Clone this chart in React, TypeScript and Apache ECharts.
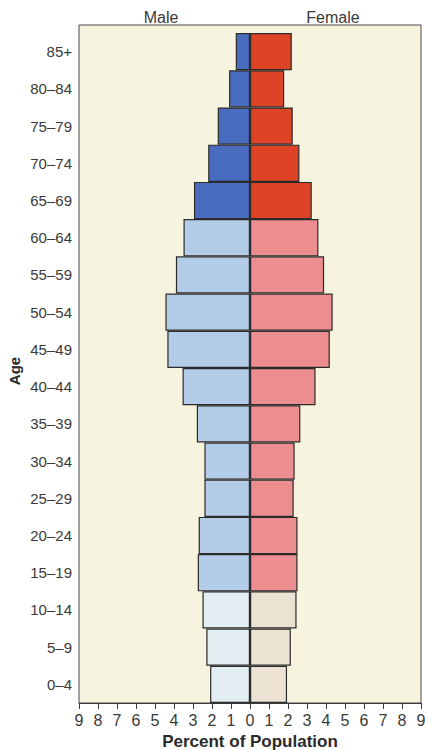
import React, { useEffect, useRef } from "react";
import * as echarts from "echarts";

const ageGroups = [
  "0–4", "5–9", "10–14", "15–19", "20–24", "25–29", "30–34", "35–39", "40–44",
  "45–49", "50–54", "55–59", "60–64", "65–69", "70–74", "75–79", "80–84", "85+",
];
const maleValues = [2.1, 2.3, 2.5, 2.75, 2.7, 2.4, 2.4, 2.8, 3.55, 4.35, 4.45, 3.9, 3.5, 2.95, 2.2, 1.7, 1.1, 0.75];
const femaleValues = [1.95, 2.15, 2.45, 2.5, 2.5, 2.3, 2.35, 2.65, 3.45, 4.2, 4.35, 3.9, 3.6, 3.25, 2.6, 2.25, 1.8, 2.2];
const xTicks = { min: -9, max: 9, step: 1 };

const maleColors = { young: "#e3eef3", mid: "#b3cde8", old: "#4a6cbf" };
const femaleColors = { young: "#ece2d3", mid: "#ec8d8f", old: "#dd4426" };

function groupOf(i: number) {
  if (i <= 2) return "young";
  if (i <= 12) return "mid";
  return "old";
}

export default function App() {
  const ref = useRef<HTMLDivElement>(null);
  useEffect(() => {
    document.body.style.margin = "0";
    const chart = echarts.init(ref.current!, undefined, { renderer: "svg" });
    const font = "'Liberation Sans', Arial, sans-serif";
    const textColor = "#3a3a3a";
    const border = { borderColor: "#2b2b2b", borderWidth: 1.2 };
    chart.setOption({
      animation: false,
      backgroundColor: "#ffffff",
      textStyle: { fontFamily: font },
      grid: { left: 79, right: 5, top: 33, bottom: 47, containLabel: false, outerBoundsMode: "none" },
      graphic: [
        {
          type: "rect",
          z: -10,
          silent: true,
          shape: { x: 79, y: 25, width: 342, height: 678 },
          style: { fill: "#f6f4de", stroke: "#4a4a4a", lineWidth: 1 },
        },
        {
          type: "text",
          x: 161,
          y: 17,
          style: { text: "Male", fontSize: 16, fill: textColor, fontFamily: font, textAlign: "center", textVerticalAlign: "middle" },
        },
        {
          type: "text",
          x: 333,
          y: 17,
          style: { text: "Female", fontSize: 16, fill: textColor, fontFamily: font, textAlign: "center", textVerticalAlign: "middle" },
        },
        {
          type: "text",
          x: 14,
          y: 371,
          rotation: Math.PI / 2,
          style: { text: "Age", fontSize: 15, fontWeight: "bold", fill: "#2a2a2a", fontFamily: font, textAlign: "center", textVerticalAlign: "middle" },
        },
      ],
      xAxis: {
        type: "value",
        min: xTicks.min,
        max: xTicks.max,
        interval: xTicks.step,
        name: "Percent of Population",
        nameLocation: "middle",
        nameGap: 25,
        nameTextStyle: { fontSize: 17, fontWeight: "bold", color: "#2a2a2a", fontFamily: font, lineHeight: 18 },
        axisLine: { show: true, onZero: false, lineStyle: { color: "#3a3a3a", width: 1 } },
        axisTick: { show: true, inside: false, length: 6, lineStyle: { color: "#3a3a3a" } },
        axisLabel: { fontSize: 16, color: textColor, margin: 9, formatter: (v: number) => String(Math.abs(v)) },
        splitLine: { show: false },
      },
      yAxis: {
        type: "category",
        data: ageGroups,
        axisLine: { show: false },
        axisTick: { show: false },
        axisLabel: { fontSize: 15, color: textColor, margin: 7 },
        splitLine: { show: false },
      },
      series: [
        {
          name: "Male",
          type: "bar",
          stack: "pop",
          barWidth: "100%",
          barCategoryGap: "0%",
          data: maleValues.map((v, i) => ({
            value: -v,
            itemStyle: { color: (maleColors as any)[groupOf(i)], ...border },
          })),
        },
        {
          name: "Female",
          type: "bar",
          stack: "pop",
          barWidth: "100%",
          barCategoryGap: "0%",
          data: femaleValues.map((v, i) => ({
            value: v,
            itemStyle: { color: (femaleColors as any)[groupOf(i)], ...border },
          })),
        },
      ],
    });
    return () => chart.dispose();
  }, []);
  return <div ref={ref} style={{ position: "absolute", left: 0, top: 0, width: 426, height: 750 }} />;
}
